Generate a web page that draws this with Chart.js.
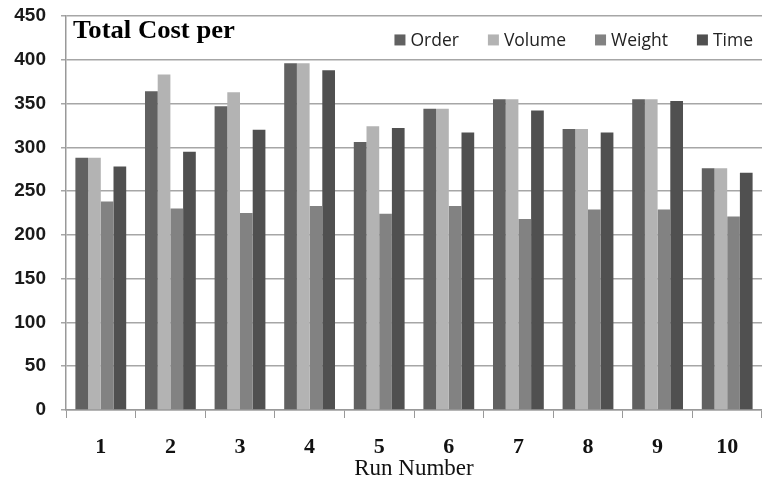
<!DOCTYPE html>
<html>
<head>
<meta charset="utf-8">
<script src="https://cdn.jsdelivr.net/npm/chart.js"></script>
<style>
  body { margin: 0; background: #fff; }
</style>
</head>
<body>
<canvas id="myChart" width="762" height="483"></canvas>
<script>
// data
const runs = ['1', '2', '3', '4', '5', '6', '7', '8', '9', '10'];
const orderCost  = [288, 364, 347, 396, 306, 344, 355, 321, 355, 276];
const volumeCost = [288, 383, 363, 396, 324, 344, 355, 321, 355, 276];
const weightCost = [238, 230, 225, 233, 224, 233, 218, 229, 229, 221];
const timeCost   = [278, 295, 320, 388, 322, 317, 342, 317, 353, 271];
const yTicks = [0, 50, 100, 150, 200, 250, 300, 350, 400, 450];
const chartTitle = 'Total Cost per';
const xTitle = 'Run Number';

// title and legend both sit inside the plot area, in the top band
const innerTitle = {
  id: 'innerTitle',
  afterDraw(chart) {
    const c = chart.ctx;
    const area = chart.chartArea;
    c.save();
    c.font = 'bold 25px "Liberation Serif", "Times New Roman", serif';
    c.fillStyle = '#000';
    c.textBaseline = 'alphabetic';
    c.translate(area.left + 7, area.top + 22);
    c.scale(1.066, 1);
    c.fillText(chartTitle, 0, 0);
    c.restore();

    // legend, laid out from the right edge
    c.save();
    c.font = '17.5px "Open Sans", sans-serif';
    c.textBaseline = 'middle';
    const box = 11, gap = 5, between = 29;
    const midY = area.top + 24;
    let x = area.right - 9;
    const sets = chart.data.datasets.slice().reverse();
    sets.forEach(ds => {
      const w = c.measureText(ds.label).width;
      x -= w;
      c.fillStyle = '#222';
      c.fillText(ds.label, x, midY + 1);
      x -= gap + box;
      c.fillStyle = ds.backgroundColor;
      c.fillRect(x, midY - box / 2, box, box);
      x -= between;
    });
    c.restore();
  }
};

var ctx = document.getElementById('myChart');
var myChart = new Chart(ctx, {
  type: 'bar',
  data: {
    labels: runs,
    datasets: [
      { label: 'Order', data: orderCost, backgroundColor: '#616161' },
      { label: 'Volume', data: volumeCost, backgroundColor: '#b3b3b3' },
      { label: 'Weight', data: weightCost, backgroundColor: '#828282' },
      { label: 'Time', data: timeCost, backgroundColor: '#505050' }
    ]
  },
  plugins: [innerTitle],
  options: {
    responsive: false,
    animation: false,
    layout: { padding: { top: 15, right: 0, left: 0, bottom: 0 } },
    datasets: {
      bar: { barPercentage: 1.0, categoryPercentage: 0.73 }
    },
    plugins: {
      tooltip: { enabled: false },
      legend: { display: false }
    },
    scales: {
      x: {
        grid: {
          drawOnChartArea: false,
          drawTicks: true,
          tickLength: 8,
          color: '#999'
        },
        border: { color: '#999', width: 1.5 },
        ticks: {
          color: '#111',
          padding: 16,
          font: { family: '"Liberation Serif", serif', size: 22, weight: 'bold' }
        },
        title: {
          display: true,
          text: xTitle,
          color: '#111',
          padding: { top: 0, bottom: 0 },
          font: { family: '"Liberation Serif", serif', size: 23 }
        },
        afterFit(scale) { scale.height = 73; }
      },
      y: {
        min: 0,
        max: 450,
        afterBuildTicks(scale) {
          scale.ticks = yTicks.map(v => ({ value: v }));
        },
        grid: {
          color: '#a6a6a6',
          lineWidth: 1.5,
          tickLength: 5
        },
        border: { color: '#999', width: 1.5 },
        ticks: {
          color: '#1a1a1a',
          padding: 15,
          font: { family: '"Liberation Sans", sans-serif', size: 19, weight: 'bold', lineHeight: 0.1 }
        },
        afterFit(scale) { scale.width = 66; }
      }
    }
  }
});
</script>
</body>
</html>
